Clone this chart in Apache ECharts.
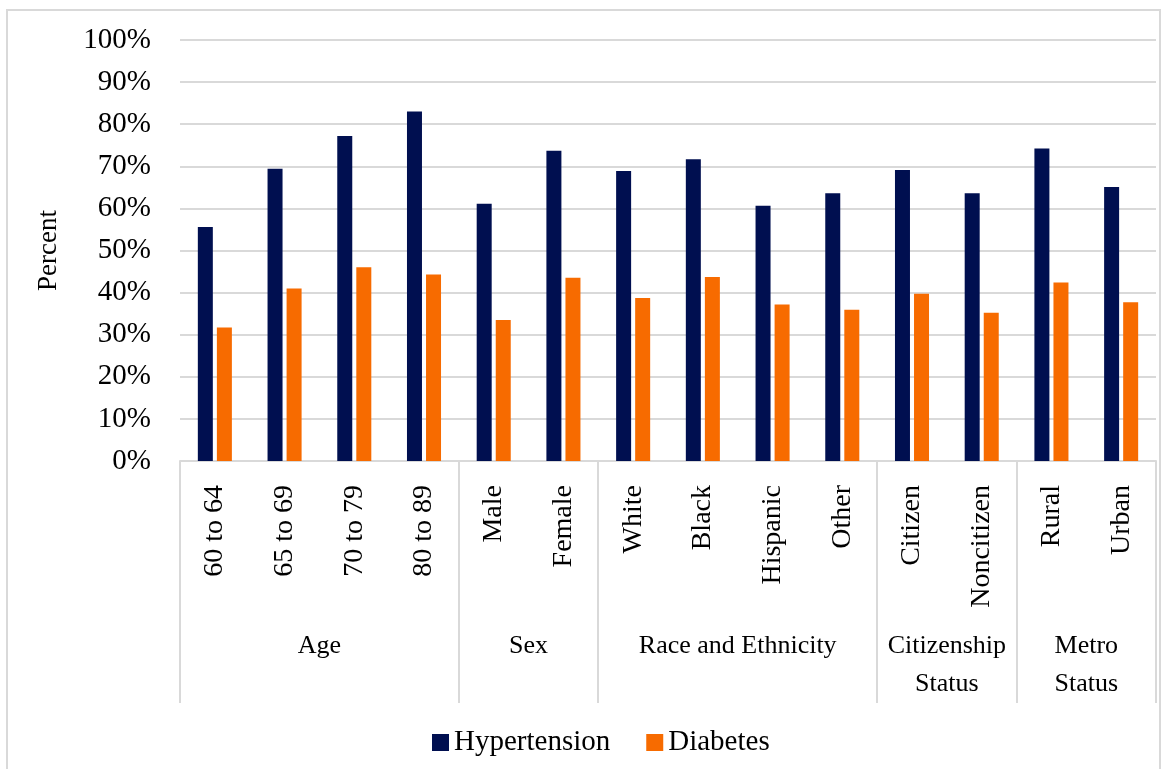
<!DOCTYPE html>
<html>
<head>
<meta charset="utf-8">
<script src="https://cdn.jsdelivr.net/npm/echarts@6/dist/echarts.min.js"></script>
<style>
html,body{margin:0;padding:0;background:#fff;}
#chart{width:1164px;height:769px;}
</style>
</head>
<body>
<div id="chart"></div>
<script>
const categories = ['60 to 64','65 to 69','70 to 79','80 to 89','Male','Female','White','Black','Hispanic','Other','Citizen','Noncitizen','Rural','Urban'];
const hypertension = [55.6, 69.4, 77.2, 83.0, 61.1, 73.7, 68.9, 71.7, 60.6, 63.6, 69.1, 63.6, 74.2, 65.1];
const diabetes = [31.7, 41.0, 46.0, 44.3, 33.5, 43.5, 38.7, 43.7, 37.2, 35.9, 39.7, 35.2, 42.4, 37.7];
const groupNames = ['Age', 'Sex', 'Race and Ethnicity', 'Citizenship\nStatus', 'Metro\nStatus'];
const groupSizes = [4, 2, 4, 2, 2];
const seriesNames = ['Hypertension', 'Diabetes'];

const FONT = 'Liberation Serif';
const chart = echarts.init(document.getElementById('chart'));
const option = {
  animation: false,
  textStyle: { fontFamily: FONT, color: '#000' },
  grid: { left: 180, right: 8, top: 40, bottom: 308, containLabel: false },
  legend: {
    data: seriesNames,
    left: 427, top: 723,
    itemWidth: 17, itemHeight: 17, itemGap: 36,
    icon: 'rect',
    textStyle: { fontFamily: FONT, fontSize: 29, color: '#000' }
  },
  xAxis: {
    type: 'category',
    data: categories,
    axisLine: { lineStyle: { color: '#d9d9d9', width: 2 } },
    axisTick: { show: false },
    axisLabel: { rotate: 90, margin: 24, fontFamily: FONT, fontSize: 28, color: '#000', interval: 0 }
  },
  yAxis: {
    type: 'value', min: 0, max: 100, interval: 10,
    name: 'Percent', nameLocation: 'middle', nameRotate: 90, nameGap: 118,
    nameTextStyle: { fontFamily: FONT, fontSize: 27, color: '#000' },
    axisLine: { show: false }, axisTick: { show: false },
    axisLabel: { formatter: '{value}%', margin: 29, fontFamily: FONT, fontSize: 29, color: '#000' },
    splitLine: { lineStyle: { color: '#d9d9d9', width: 2 } }
  },
  series: [
    { name: seriesNames[0], type: 'bar', data: hypertension, barWidth: 15, barGap: '27%', itemStyle: { color: '#000F50' } },
    { name: seriesNames[1], type: 'bar', data: diabetes, barWidth: 15, barGap: '27%', itemStyle: { color: '#F76B00' } }
  ]
};
chart.setOption(option);

// group separators and labels, positioned through the axis scale
const c0 = chart.convertToPixel({ xAxisIndex: 0 }, 0);
const c1 = chart.convertToPixel({ xAxisIndex: 0 }, 1);
const bw = c1 - c0;
const y0 = chart.convertToPixel({ yAxisIndex: 0 }, 0);
const lineBottom = 703;
const graphics = [
  { type: 'rect', shape: { x: 7, y: 10, width: 1153, height: 775 }, style: { fill: 'none', stroke: '#d9d9d9', lineWidth: 2 }, silent: true }
];
let start = 0;
const boundaries = [0];
groupSizes.forEach(s => { start += s; boundaries.push(start); });
boundaries.forEach(b => {
  const x = Math.round(c0 - bw / 2 + b * bw);
  graphics.push({ type: 'line', shape: { x1: x, y1: y0, x2: x, y2: lineBottom }, style: { stroke: '#d9d9d9', lineWidth: 2 }, silent: true });
});
start = 0;
groupNames.forEach((g, i) => {
  const left = c0 - bw / 2 + start * bw;
  const mid = left + groupSizes[i] * bw / 2;
  start += groupSizes[i];
  graphics.push({ type: 'text', x: mid, y: 627, style: { text: g, fontFamily: FONT, fontSize: 26, fill: '#000', align: 'center', verticalAlign: 'top', lineHeight: 38 }, silent: true });
});
chart.setOption({ graphic: graphics });
</script>
</body>
</html>
